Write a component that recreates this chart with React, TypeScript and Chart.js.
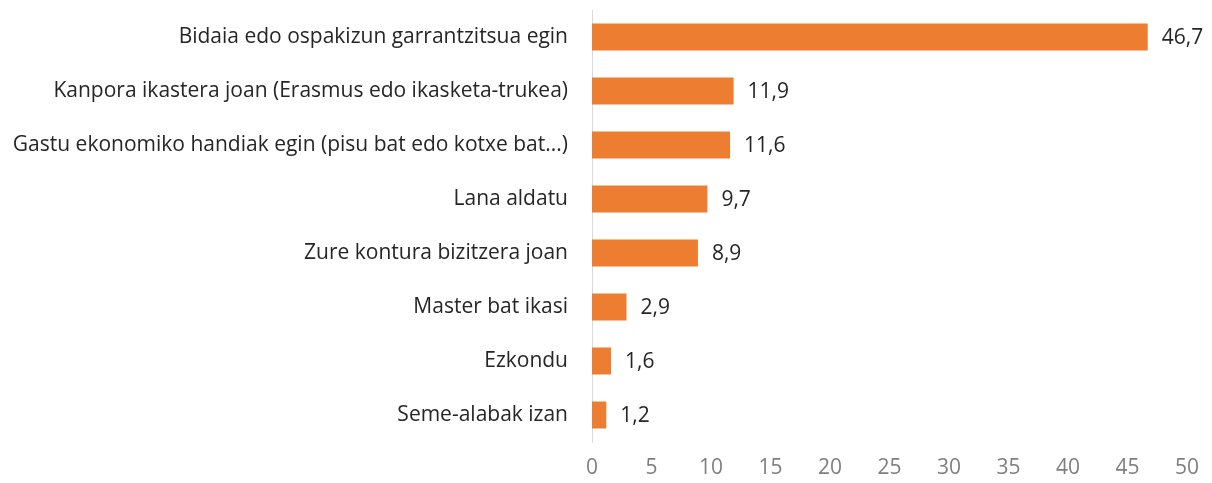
import React, { useEffect, useRef } from "react";
import { Chart, registerables } from "chart.js";

Chart.register(...registerables);

const categories = [
  "Bidaia edo ospakizun garrantzitsua egin",
  "Kanpora ikastera joan (Erasmus edo ikasketa-trukea)",
  "Gastu ekonomiko handiak egin (pisu bat edo kotxe bat...)",
  "Lana aldatu",
  "Zure kontura bizitzera joan",
  "Master bat ikasi",
  "Ezkondu",
  "Seme-alabak izan",
];
const values = [46.7, 11.9, 11.6, 9.7, 8.9, 2.9, 1.6, 1.2];
const xTicks = [0, 5, 10, 15, 20, 25, 30, 35, 40, 45, 50];

const FONT = "'Open Sans', sans-serif";

const valueLabels = {
  id: "valueLabels",
  afterDatasetsDraw(chart: any) {
    const ctx = chart.ctx;
    const meta = chart.getDatasetMeta(0);
    ctx.save();
    ctx.font = `21px ${FONT}`;
    ctx.fillStyle = "#262626";
    ctx.textAlign = "left";
    ctx.textBaseline = "middle";
    meta.data.forEach((bar: any, i: number) => {
      const txt = values[i].toFixed(1).replace(".", ",");
      ctx.fillText(txt, bar.x + 14, bar.y + 1);
    });
    ctx.restore();
  },
};

export default function App() {
  const ref = useRef<HTMLCanvasElement | null>(null);
  useEffect(() => {
    if (!ref.current) return;
    const chart = new Chart(ref.current, {
      type: "bar",
      data: {
        labels: categories,
        datasets: [
          {
            data: values,
            backgroundColor: "#ED7D31",
            barPercentage: 0.5,
            categoryPercentage: 1,
          },
        ],
      },
      options: {
        indexAxis: "y",
        animation: false,
        responsive: true,
        maintainAspectRatio: false,
        layout: { padding: { top: 2, right: 17, bottom: 0, left: 0 } },
        plugins: {
          legend: { display: false },
          tooltip: { enabled: false },
        },
        scales: {
          x: {
            min: 0,
            max: 50,
            afterBuildTicks: (scale: any) => {
              scale.ticks = xTicks.map((v) => ({ value: v }));
            },
            grid: { display: false, drawTicks: false },
            border: { display: false },
            ticks: {
              color: "#7f7f7f",
              font: { family: FONT, size: 21 },
              padding: 13,
              maxRotation: 0,
            },
            afterFit: (scale: any) => {
              scale.height = 41;
              scale.paddingLeft = 0;
              scale.paddingRight = 0;
              scale.paddingTop = 0;
              scale.paddingBottom = 0;
            },
          },
          y: {
            grid: { display: false, drawTicks: false },
            border: { display: true, color: "#d9d9d9", width: 1 },
            ticks: {
              color: "#262626",
              font: { family: FONT, size: 21 },
              padding: 24,
              autoSkip: false,
            },
            afterFit: (scale: any) => {
              scale.width = 584;
              scale.paddingLeft = 0;
              scale.paddingRight = 0;
              scale.paddingTop = 0;
              scale.paddingBottom = 0;
            },
          },
        },
      },
      plugins: [valueLabels],
    });
    return () => chart.destroy();
  }, []);
  return (
    <div style={{ width: 1196, height: 475, position: "relative" }}>
      <canvas ref={ref} />
    </div>
  );
}
